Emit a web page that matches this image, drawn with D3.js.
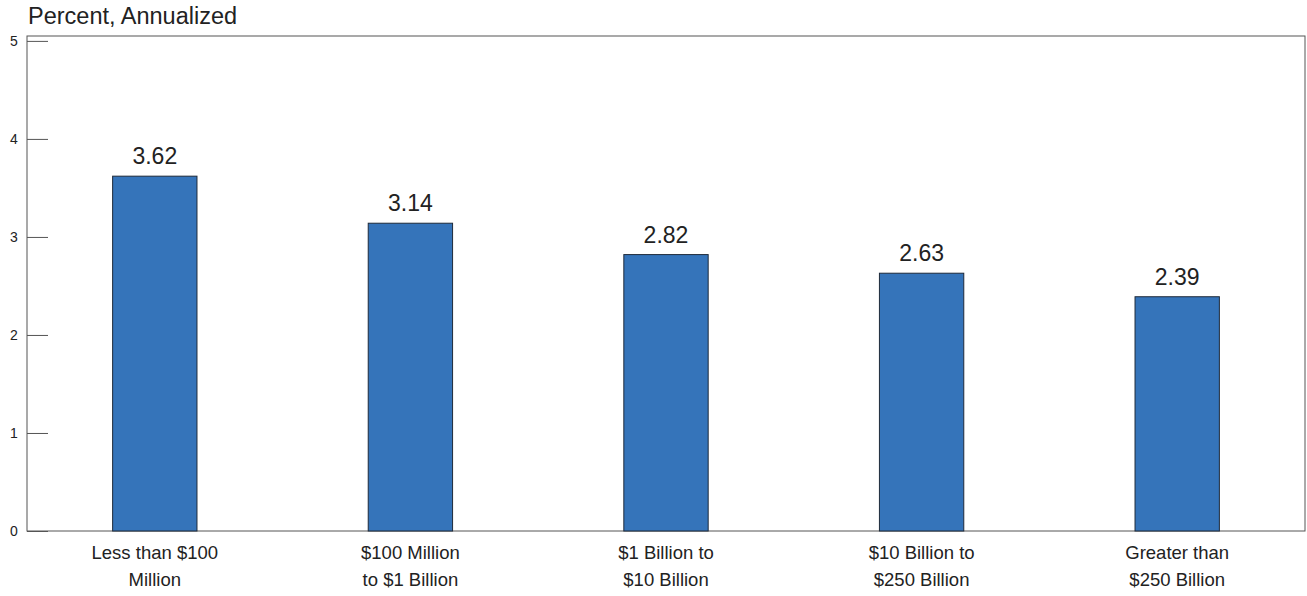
<!DOCTYPE html>
<html><head><meta charset="utf-8">
<script src="https://cdn.jsdelivr.net/npm/d3@7"></script>
<style>body{margin:0;background:#fff;font-family:"Liberation Sans",Arial,sans-serif}</style>
</head><body><svg id="c" width="1307" height="596"></svg>
<script>
const categories = [["Less than $100","Million"],["$100 Million","to $1 Billion"],["$1 Billion to","$10 Billion"],["$10 Billion to","$250 Billion"],["Greater than","$250 Billion"]];
const values = [3.62, 3.14, 2.82, 2.63, 2.39];
const yTicks = [0,1,2,3,4,5];
const title = "Percent, Annualized";

const svg = d3.select("#c");
const L = 27, R = 1305, T = 36, B = 531;
const x = d3.scaleBand().domain(d3.range(values.length)).range([L, R]).paddingInner(0.67).paddingOuter(0.335);
const y = d3.scaleLinear().domain([0, 5.05]).range([B, T]);

svg.append("text").attr("x", 28).attr("y", 24).attr("font-size", 23.5).attr("fill", "#222").text(title);

svg.append("rect").attr("x", L).attr("y", T).attr("width", R - L).attr("height", B - T)
  .attr("fill", "none").attr("stroke", "#555").attr("stroke-width", 1);

const yAxis = d3.axisRight(y).tickValues(yTicks).tickSize(21).tickFormat("");
const g = svg.append("g").attr("transform", `translate(${L},0)`).call(yAxis);
g.select(".domain").remove();
g.selectAll(".tick line").attr("stroke", "#555");
svg.append("g").selectAll("text").data(yTicks).join("text")
  .attr("x", 14).attr("y", d => y(d) + 5).attr("text-anchor", "middle")
  .attr("font-size", 14).attr("fill", "#222").text(d => d);

svg.append("g").selectAll("rect").data(values).join("rect")
  .attr("x", (d, i) => x(i)).attr("y", d => y(d)).attr("width", x.bandwidth())
  .attr("height", d => y(0) - y(d)).attr("fill", "#3574ba").attr("stroke", "#1e2a3a").attr("stroke-width", 1);

svg.append("g").selectAll("text").data(values).join("text")
  .attr("x", (d, i) => x(i) + x.bandwidth() / 2).attr("y", d => y(d) - 12)
  .attr("text-anchor", "middle").attr("font-size", 23).attr("fill", "#222").text(d => d.toFixed(2));

const lab = svg.append("g").selectAll("text").data(categories).join("text")
  .attr("x", (d, i) => x(i) + x.bandwidth() / 2).attr("text-anchor", "middle")
  .attr("font-size", 18.5).attr("fill", "#222");
lab.selectAll("tspan").data(d => d).join("tspan")
  .attr("x", function(){ return this.parentNode.getAttribute("x"); })
  .attr("y", (d, j) => 559 + j * 27).text(d => d);
</script></body></html>
